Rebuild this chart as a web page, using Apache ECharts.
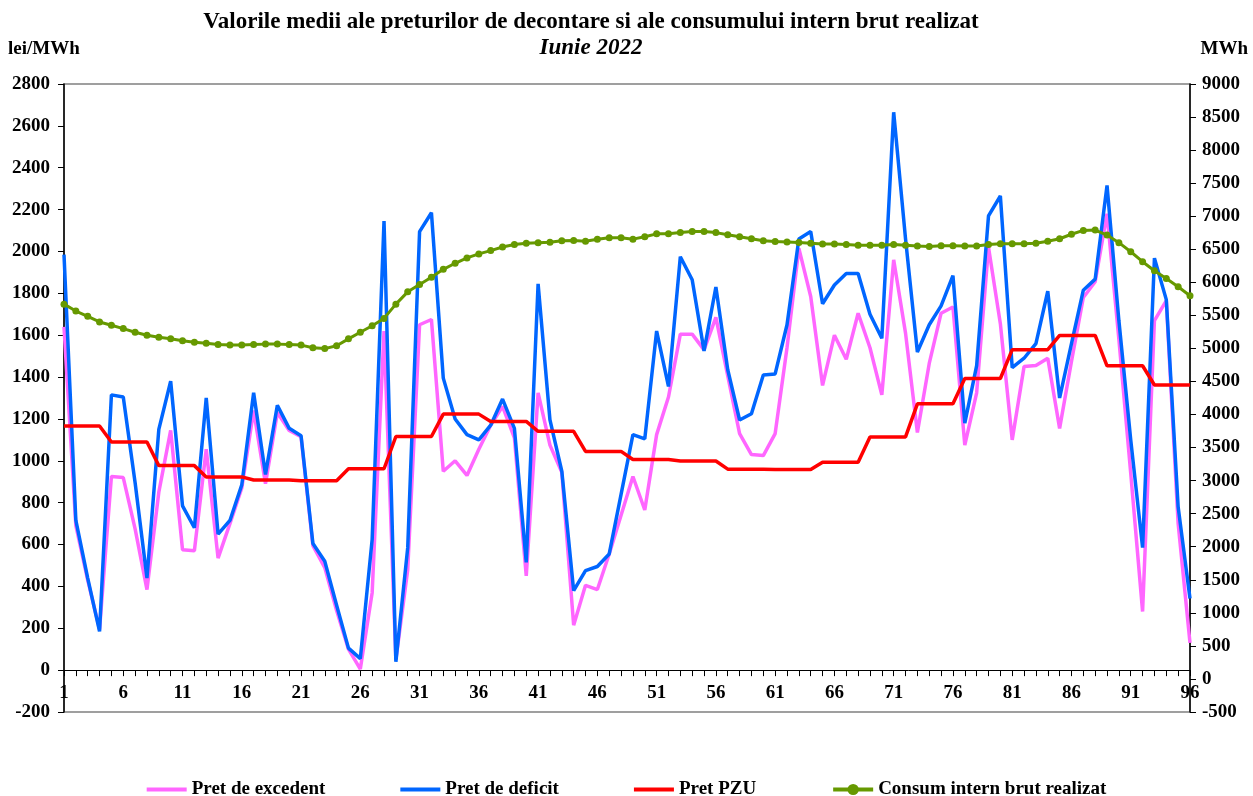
<!DOCTYPE html>
<html>
<head>
<meta charset="utf-8">
<script src="https://cdn.jsdelivr.net/npm/echarts@6/dist/echarts.min.js"></script>
<style>
  html, body { margin: 0; padding: 0; background: #fff; }
  #chart { width: 1253px; height: 796px; }
</style>
</head>
<body>
<div id="chart"></div>
<script>
// intervale orare 1..96
var intervals = [];
for (var i = 1; i <= 96; i++) intervals.push(String(i));

var pretExcedent = [
  1640, 690, 430, 195, 925, 920, 675, 385, 850, 1145,
  575, 570, 1055, 535, 700, 870, 1240, 890, 1230, 1145,
  1115, 595, 490, 285, 100, 5, 370, 1620, 50, 480,
  1650, 1675, 950, 1000, 930, 1055, 1170, 1260, 1110, 450,
  1325, 1075, 945, 215, 405, 385, 555, 740, 925, 765,
  1125, 1305, 1605, 1605, 1530, 1685, 1405, 1130, 1030, 1025,
  1130, 1540, 2015, 1785, 1360, 1600, 1485, 1705, 1540, 1315,
  1960, 1610, 1135, 1465, 1705, 1735, 1075, 1325, 2020, 1655,
  1100, 1450, 1455, 1490, 1155, 1475, 1780, 1855, 2180, 1580,
  940, 280, 1670, 1765, 700, 130
];

var pretDeficit = [
  1985, 715, 440, 185, 1315, 1305, 895, 440, 1150, 1380,
  785, 680, 1300, 650, 715, 885, 1325, 935, 1265, 1155,
  1120, 605, 520, 310, 105, 55, 625, 2145, 40, 585,
  2095, 2185, 1395, 1200, 1125, 1100, 1170, 1295, 1155, 515,
  1845, 1195, 950, 380, 475, 495, 555, 840, 1125, 1105,
  1620, 1355, 1975, 1865, 1525, 1830, 1435, 1195, 1225, 1410,
  1415, 1650, 2060, 2095, 1750, 1840, 1895, 1895, 1700, 1585,
  2665, 2060, 1520, 1650, 1740, 1885, 1180, 1455, 2170, 2265,
  1445, 1490, 1560, 1810, 1300, 1560, 1815, 1868, 2315, 1670,
  1100, 585, 1968, 1770, 780, 342
];

var pretPZU = [
  1166, 1166, 1166, 1166, 1090, 1090, 1090, 1090, 977, 977,
  977, 977, 923, 923, 923, 923, 908, 908, 908, 908,
  905, 905, 905, 905, 962, 962, 962, 962, 1116, 1116,
  1116, 1116, 1223, 1223, 1223, 1223, 1188, 1188, 1188, 1188,
  1141, 1141, 1141, 1141, 1045, 1045, 1045, 1045, 1006, 1006,
  1006, 1006, 999, 999, 999, 999, 960, 960, 960, 960,
  958, 958, 958, 958, 993, 993, 993, 993, 1114, 1114,
  1114, 1114, 1272, 1272, 1272, 1272, 1393, 1393, 1393, 1393,
  1531, 1531, 1531, 1531, 1599, 1599, 1599, 1599, 1454, 1454,
  1454, 1454, 1362, 1362, 1362, 1362
];

var consum = [
  5670, 5565, 5485, 5400, 5350, 5300, 5245, 5200, 5170, 5145,
  5115, 5095, 5077, 5060, 5053, 5053, 5059, 5065, 5065, 5059,
  5050, 5010, 4997, 5040, 5145, 5244, 5343, 5454, 5670, 5856,
  5967, 6078, 6196, 6288, 6369, 6430, 6480, 6535, 6572, 6591,
  6600, 6605, 6630, 6632, 6622, 6650, 6675, 6675, 6653, 6690,
  6733, 6735, 6752, 6770, 6770, 6752, 6721, 6690, 6659, 6628,
  6616, 6610, 6603, 6591, 6579, 6579, 6572, 6560, 6560, 6560,
  6572, 6560, 6548, 6542, 6554, 6554, 6548, 6548, 6572, 6585,
  6585, 6585, 6591, 6622, 6659, 6727, 6785, 6790, 6715, 6600,
  6462, 6312, 6175, 6058, 5932, 5797
];

var FONT = '"Liberation Serif", "Times New Roman", serif';
var LINE_ICON = 'path://M0,0L40,0L40,4L0,4Z';

var chart = echarts.init(document.getElementById('chart'));

chart.setOption({
  backgroundColor: '#fff',
  animation: false,
  graphic: [
    { type: 'text', x: 591, y: 22,
      style: { text: 'Valorile medii ale preturilor de decontare si ale consumului intern brut realizat',
        font: 'bold 23px ' + FONT, fill: '#000', textAlign: 'center', textVerticalAlign: 'middle' } },
    { type: 'text', x: 591, y: 48,
      style: { text: 'Iunie 2022', font: 'italic bold 23px ' + FONT, fill: '#000',
        textAlign: 'center', textVerticalAlign: 'middle' } },
    { type: 'text', x: 8, y: 49,
      style: { text: 'lei/MWh', font: 'bold 19px ' + FONT, fill: '#000',
        textAlign: 'left', textVerticalAlign: 'middle' } },
    { type: 'text', x: 1248, y: 49,
      style: { text: 'MWh', font: 'bold 19px ' + FONT, fill: '#000',
        textAlign: 'right', textVerticalAlign: 'middle' } }
  ],
  legend: {
    top: 775,
    left: 'center',
    itemWidth: 40,
    itemHeight: 14,
    itemGap: 75,
    textStyle: { fontFamily: FONT, fontWeight: 'bold', fontSize: 19, color: '#000' },
    data: [
      { name: 'Pret de excedent', icon: LINE_ICON },
      { name: 'Pret de deficit', icon: LINE_ICON },
      { name: 'Pret PZU', icon: LINE_ICON },
      { name: 'Consum intern brut realizat', lineStyle: { width: 4 } }
    ]
  },
  grid: {
    left: 64, right: 63, top: 84, bottom: 84,
    show: true, borderColor: '#808080', borderWidth: 1.5, backgroundColor: '#fff'
  },
  xAxis: {
    type: 'category',
    data: intervals,
    boundaryGap: false,
    axisLine: { onZero: true, lineStyle: { color: '#000', width: 1 } },
    axisTick: { show: true, interval: 0, length: 6, lineStyle: { color: '#000' } },
    axisLabel: { interval: 4, margin: -28, color: '#000', fontFamily: FONT, fontWeight: 'bold', fontSize: 19 },
    splitLine: { show: false }
  },
  yAxis: [
    {
      type: 'value', min: -200, max: 2800, interval: 200,
      axisLine: { show: true, lineStyle: { color: '#000', width: 1.5 } },
      axisTick: { show: true, length: 6, lineStyle: { color: '#000' } },
      axisLabel: { margin: 14, color: '#000', fontFamily: FONT, fontWeight: 'bold', fontSize: 19,
        formatter: function (v) { return String(v); } },
      splitLine: { show: false }
    },
    {
      type: 'value', min: -500, max: 9000, interval: 500,
      position: 'right',
      axisLine: { show: true, lineStyle: { color: '#000', width: 1.5 } },
      axisTick: { show: true, length: 6, lineStyle: { color: '#000' } },
      axisLabel: { margin: 12, color: '#000', fontFamily: FONT, fontWeight: 'bold', fontSize: 19,
        formatter: function (v) { return String(v); } },
      splitLine: { show: false }
    }
  ],
  series: [
    {
      name: 'Pret de excedent', type: 'line', yAxisIndex: 0, data: pretExcedent,
      symbol: 'none', color: '#FF66FF', lineStyle: { width: 3.5, color: '#FF66FF' }
    },
    {
      name: 'Pret de deficit', type: 'line', yAxisIndex: 0, data: pretDeficit,
      symbol: 'none', color: '#0066FF', lineStyle: { width: 3.5, color: '#0066FF' }
    },
    {
      name: 'Pret PZU', type: 'line', yAxisIndex: 0, data: pretPZU,
      symbol: 'none', color: '#FF0000', lineStyle: { width: 3.5, color: '#FF0000' }
    },
    {
      name: 'Consum intern brut realizat', type: 'line', yAxisIndex: 1, data: consum,
      symbol: 'circle', symbolSize: 7, showAllSymbol: true, color: '#669900',
      itemStyle: { color: '#669900' },
      lineStyle: { width: 3, color: '#669900' }
    }
  ]
});
</script>
</body>
</html>
